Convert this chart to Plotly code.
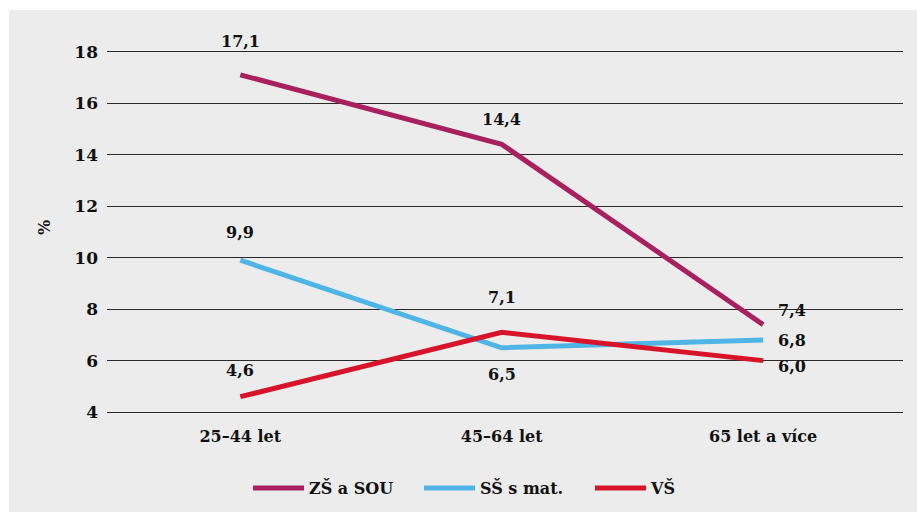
import plotly.graph_objects as go

categories = ["25–44 let", "45–64 let", "65 let a více"]
series_names = ["ZŠ a SOU", "SŠ s mat.", "VŠ"]
zs_sou = [17.1, 14.4, 7.4]
ss_mat = [9.9, 6.5, 6.8]
vs = [4.6, 7.1, 6.0]
value_labels = {
    "ZŠ a SOU": ["17,1", "14,4", "7,4"],
    "SŠ s mat.": ["9,9", "6,5", "6,8"],
    "VŠ": ["4,6", "7,1", "6,0"],
}
y_ticks = [4, 6, 8, 10, 12, 14, 16, 18]

# styles
colors = {"ZŠ a SOU": "#A8205D", "SŠ s mat.": "#4FB5E6", "VŠ": "#D8142A"}
# label offsets (xshift, yshift, xanchor)
label_style = {
    "ZŠ a SOU": [(0, 33, "center"), (0, 25, "center"), (13, 14, "left")],
    "SŠ s mat.": [(0, 28, "center"), (0, -27, "center"), (13, 0, "left")],
    "VŠ": [(0, 26, "center"), (0, 35, "center"), (13, -6, "left")],
}
FONT = "DejaVu Serif"
W, H = 917, 512
ml, mr, mt, mb = 107, 14, 13, 87
pw = W - ml - mr
ph = H - mt - mb

data = {"ZŠ a SOU": zs_sou, "SŠ s mat.": ss_mat, "VŠ": vs}

fig = go.Figure()
annotations = []
for name in series_names:
    vals = data[name]
    fig.add_trace(go.Scatter(
        x=list(range(len(categories))), y=vals, mode="lines", name=name,
        line=dict(color=colors[name], width=5),
        hoverinfo="skip",
    ))
    for i, (v, t) in enumerate(zip(vals, value_labels[name])):
        xs, ys, xa = label_style[name][i]
        annotations.append(dict(
            x=i, y=v, xref="x", yref="y", text=t, showarrow=False,
            xshift=xs, yshift=ys, xanchor=xa, yanchor="middle",
            font=dict(family=FONT, size=16, color="#111111", weight="bold"),
        ))

annotations.append(dict(
    x=(44 - ml) / pw, y=0.5, xref="paper", yref="paper", text="%",
    textangle=-90, showarrow=False, xanchor="center", yanchor="middle",
    yshift=(ph / 2 + mt) - 228,
    font=dict(family=FONT, size=16, color="#111111", weight="bold"),
))

shapes = [dict(
    type="rect", xref="paper", yref="paper", layer="below",
    x0=(9 - ml) / pw, x1=1.2, y0=-0.5, y1=1 + 3 / ph,
    fillcolor="#ECECEC", line=dict(width=0),
)]

fig.update_layout(
    width=W, height=H,
    margin=dict(l=ml, r=mr, t=mt, b=mb, autoexpand=False),
    paper_bgcolor="white", plot_bgcolor="rgba(0,0,0,0)",
    font=dict(family=FONT, size=16, color="#111111", weight="bold"),
    showlegend=True,
    legend=dict(
        orientation="h", x=(248 - ml) / pw, xanchor="left",
        y=-0.153, yanchor="middle", entrywidth=105, entrywidthmode="pixels",
        itemwidth=51,
        font=dict(family=FONT, size=16, color="#111111", weight="bold"),
        bgcolor="rgba(0,0,0,0)",
    ),
    xaxis=dict(
        tickmode="array", tickvals=list(range(len(categories))), ticktext=categories,
        range=[-0.51, 2.535], showgrid=False, zeroline=False, showline=False,
        ticks="", fixedrange=True, automargin=False,
    ),
    yaxis=dict(
        range=[3.5, 19.5], tickvals=y_ticks, showgrid=True, gridcolor="#2a2a2a",
        gridwidth=1.3, zeroline=False, showline=False, ticks="", ticklabelstandoff=8,
        automargin=False, tickfont=dict(size=17),
    ),
    annotations=annotations, shapes=shapes,
)

fig.write_html("out.html", config={"displayModeBar": False},
               post_script="document.body.style.margin='0';")
